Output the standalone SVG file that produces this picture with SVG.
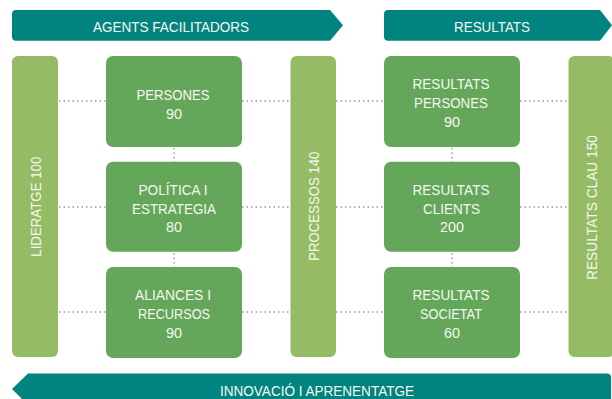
<svg xmlns="http://www.w3.org/2000/svg" width="612" height="399" viewBox="0 0 612 399">
<style>
.banner{fill:#01847f}
.bar{fill:#95bc64}
.box{fill:#65a75a}
.t{font-family:"Liberation Sans",Arial,sans-serif;font-size:15px;fill:#f4f8f0;text-anchor:middle}
.dot{stroke:#9a9a9a;stroke-width:1.5;stroke-dasharray:1.5 3;fill:none}
</style>
<rect width="612" height="399" fill="#ffffff"/>
<g id="banner-agents">
<path class="banner" d="M16,10 H330 L343,25.3 L330,40.7 H16 Q12,40.7 12,36.7 V14 Q12,10 16,10 Z"/>
<text class="t" x="171" y="32.3" textLength="156" lengthAdjust="spacingAndGlyphs">AGENTS FACILITADORS</text>
</g>
<g id="banner-resultats">
<path class="banner" d="M388,10 H600 L612,25.3 L600,40.7 H388 Q384,40.7 384,36.7 V14 Q384,10 388,10 Z"/>
<text class="t" x="492" y="32.3" textLength="76" lengthAdjust="spacingAndGlyphs">RESULTATS</text>
</g>
<g id="banner-innovacio">
<path class="banner" d="M28,373.5 H607 Q611,373.5 611,377.5 V405 H28 L12,389 Z"/>
<text class="t" x="317" y="396" textLength="194" lengthAdjust="spacingAndGlyphs">INNOVACIÓ I APRENENTATGE</text>
</g>
<g id="connectors">
<path class="dot" d="M59,101 H106 M242,101 H290 M336,101 H384 M520,101 H568"/>
<path class="dot" d="M59,207 H106 M242,207 H290 M336,207 H384 M520,207 H568"/>
<path class="dot" d="M59,312 H106 M242,312 H290 M336,312 H384 M520,312 H568"/>
<path class="dot" d="M174,148 V162 M174,253 V267 M452,148 V162 M452,253 V267"/>
</g>
<g id="lideratge">
<rect class="bar" x="12" y="56" width="46" height="301" rx="6"/>
<text class="t" transform="translate(40.5,206.7) rotate(-90)" textLength="100" lengthAdjust="spacingAndGlyphs">LIDERATGE 100</text>
</g>
<g id="processos">
<rect class="bar" x="290.5" y="56" width="45.5" height="301" rx="6"/>
<text class="t" transform="translate(319,206.2) rotate(-90)" textLength="109" lengthAdjust="spacingAndGlyphs">PROCESSOS 140</text>
</g>
<g id="resultats-clau">
<rect class="bar" x="568.5" y="56" width="46" height="301" rx="6"/>
<text class="t" transform="translate(596.5,207.5) rotate(-90)" textLength="145" lengthAdjust="spacingAndGlyphs">RESULTATS CLAU 150</text>
</g>
<g id="persones">
<rect class="box" x="106" y="56" width="136" height="91" rx="7"/>
<text class="t" x="173" y="100" textLength="73" lengthAdjust="spacingAndGlyphs">PERSONES</text>
<text class="t" x="174" y="118.5" textLength="16" lengthAdjust="spacingAndGlyphs">90</text>
</g>
<g id="politica">
<rect class="box" x="106" y="161.7" width="136" height="90" rx="7"/>
<text class="t" x="173" y="195" textLength="69" lengthAdjust="spacingAndGlyphs">POLÍTICA I</text>
<text class="t" x="174" y="213.6" textLength="84" lengthAdjust="spacingAndGlyphs">ESTRATEGIA</text>
<text class="t" x="174" y="232" textLength="16" lengthAdjust="spacingAndGlyphs">80</text>
</g>
<g id="aliances">
<rect class="box" x="106" y="267" width="136" height="91" rx="7"/>
<text class="t" x="173" y="300" textLength="76" lengthAdjust="spacingAndGlyphs">ALIANCES I</text>
<text class="t" x="174" y="319" textLength="72" lengthAdjust="spacingAndGlyphs">RECURSOS</text>
<text class="t" x="174" y="337.5" textLength="16" lengthAdjust="spacingAndGlyphs">90</text>
</g>
<g id="resultats-persones">
<rect class="box" x="384" y="56" width="136" height="91" rx="7"/>
<text class="t" x="451" y="89" textLength="77" lengthAdjust="spacingAndGlyphs">RESULTATS</text>
<text class="t" x="451" y="107.7" textLength="74" lengthAdjust="spacingAndGlyphs">PERSONES</text>
<text class="t" x="452" y="126.5" textLength="16" lengthAdjust="spacingAndGlyphs">90</text>
</g>
<g id="resultats-clients">
<rect class="box" x="384" y="161.7" width="136" height="90" rx="7"/>
<text class="t" x="451" y="195" textLength="77" lengthAdjust="spacingAndGlyphs">RESULTATS</text>
<text class="t" x="451.5" y="213.6" textLength="57" lengthAdjust="spacingAndGlyphs">CLIENTS</text>
<text class="t" x="452" y="232" textLength="24" lengthAdjust="spacingAndGlyphs">200</text>
</g>
<g id="resultats-societat">
<rect class="box" x="384" y="267" width="136" height="91" rx="7"/>
<text class="t" x="451" y="300" textLength="77" lengthAdjust="spacingAndGlyphs">RESULTATS</text>
<text class="t" x="451" y="319" textLength="62" lengthAdjust="spacingAndGlyphs">SOCIETAT</text>
<text class="t" x="452" y="337.5" textLength="16" lengthAdjust="spacingAndGlyphs">60</text>
</g>
</svg>
